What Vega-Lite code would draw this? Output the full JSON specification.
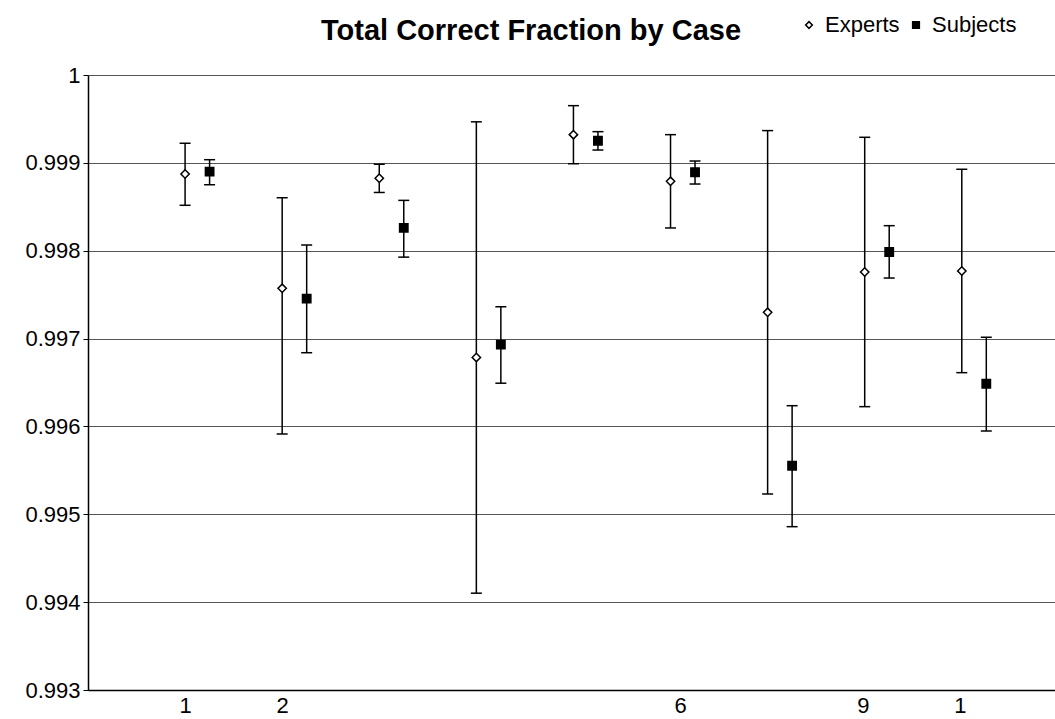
{
  "$schema": "https://vega.github.io/schema/vega-lite/v6.json",
  "width": 967,
  "height": 615,
  "autosize": {"type": "none"},
  "padding": {"left": 88, "top": 75, "right": 0, "bottom": 29},
  "background": "white",
  "config": {
    "font": "Liberation Sans",
    "view": {"stroke": null},
    "axis": {"labelFont": "Liberation Sans", "labelColor": "black"}
  },
  "title": {
    "text": "Total Correct Fraction by Case",
    "font": "Liberation Sans",
    "fontSize": 29,
    "fontWeight": "bold",
    "color": "black",
    "anchor": "start",
    "frame": "group",
    "dx": 233,
    "offset": 32,
    "dy": 64
  },
  "data": {
    "values": [
      {"case": 1, "series": "Experts", "value": 0.998873, "lo": 0.998517, "hi": 0.999223},
      {"case": 2, "series": "Experts", "value": 0.997572, "lo": 0.995914, "hi": 0.998603},
      {"case": 3, "series": "Experts", "value": 0.998825, "lo": 0.998663, "hi": 0.998984},
      {"case": 4, "series": "Experts", "value": 0.996785, "lo": 0.994102, "hi": 0.999467},
      {"case": 5, "series": "Experts", "value": 0.999321, "lo": 0.998990, "hi": 0.999651},
      {"case": 6, "series": "Experts", "value": 0.998790, "lo": 0.998259, "hi": 0.999321},
      {"case": 7, "series": "Experts", "value": 0.997299, "lo": 0.995231, "hi": 0.999367},
      {"case": 8, "series": "Experts", "value": 0.997758, "lo": 0.996225, "hi": 0.999291},
      {"case": 9, "series": "Experts", "value": 0.997769, "lo": 0.996612, "hi": 0.998927},
      {"case": 1, "series": "Subjects", "value": 0.998900, "lo": 0.998751, "hi": 0.999036},
      {"case": 2, "series": "Subjects", "value": 0.997454, "lo": 0.996839, "hi": 0.998065},
      {"case": 3, "series": "Subjects", "value": 0.998260, "lo": 0.997927, "hi": 0.998573},
      {"case": 4, "series": "Subjects", "value": 0.996931, "lo": 0.996492, "hi": 0.997362},
      {"case": 5, "series": "Subjects", "value": 0.999252, "lo": 0.999146, "hi": 0.999355},
      {"case": 6, "series": "Subjects", "value": 0.998893, "lo": 0.998759, "hi": 0.999021},
      {"case": 7, "series": "Subjects", "value": 0.995553, "lo": 0.994859, "hi": 0.996236},
      {"case": 8, "series": "Subjects", "value": 0.997985, "lo": 0.997689, "hi": 0.998285},
      {"case": 9, "series": "Subjects", "value": 0.996486, "lo": 0.995948, "hi": 0.997015}
    ]
  },
  "encoding": {
    "x": {
      "field": "case",
      "type": "quantitative",
      "scale": {"domain": [0, 9.96], "nice": false, "zero": false},
      "axis": {
        "title": null,
        "values": [1, 2, 6.1, 7.98, 8.98],
        "labelExpr": "datum.value < 1.5 ? '1' : datum.value < 2.5 ? '2' : datum.value < 7 ? '6' : datum.value < 8.5 ? '9' : '1'",
        "labelFontSize": 22,
        "labelPadding": 5,
        "ticks": false,
        "grid": false,
        "domainColor": "black",
        "domainWidth": 1.5
      }
    },
    "y": {
      "field": "value",
      "type": "quantitative",
      "scale": {"domain": [0.993, 1.0], "nice": false, "zero": false},
      "axis": {
        "title": null,
        "values": [0.993, 0.994, 0.995, 0.996, 0.997, 0.998, 0.999, 1.0],
        "format": ".3~f",
        "labelFontSize": 22,
        "labelPadding": 3,
        "tickSize": 5,
        "tickColor": "black",
        "domainColor": "black",
        "domainWidth": 1.5,
        "grid": true,
        "gridColor": "#555555",
        "gridWidth": 1
      }
    }
  },
  "layer": [
    {
      "transform": [{"filter": "datum.series === 'Experts'"}],
      "mark": {"type": "rule", "color": "black", "strokeWidth": 1.5},
      "encoding": {"y": {"field": "lo", "type": "quantitative"}, "y2": {"field": "hi"}}
    },
    {
      "transform": [{"filter": "datum.series === 'Subjects'"}],
      "mark": {"type": "rule", "color": "black", "strokeWidth": 1.5, "xOffset": 24.5},
      "encoding": {"y": {"field": "lo", "type": "quantitative"}, "y2": {"field": "hi"}}
    },
    {
      "transform": [{"filter": "datum.series === 'Experts'"}],
      "mark": {"type": "tick", "orient": "horizontal", "color": "black", "size": 11, "thickness": 1.5, "opacity": 1},
      "encoding": {"y": {"field": "lo", "type": "quantitative"}}
    },
    {
      "transform": [{"filter": "datum.series === 'Experts'"}],
      "mark": {"type": "tick", "orient": "horizontal", "color": "black", "size": 11, "thickness": 1.5, "opacity": 1},
      "encoding": {"y": {"field": "hi", "type": "quantitative"}}
    },
    {
      "transform": [{"filter": "datum.series === 'Subjects'"}],
      "mark": {"type": "tick", "orient": "horizontal", "color": "black", "size": 11, "thickness": 1.5, "opacity": 1, "xOffset": 24.5},
      "encoding": {"y": {"field": "lo", "type": "quantitative"}}
    },
    {
      "transform": [{"filter": "datum.series === 'Subjects'"}],
      "mark": {"type": "tick", "orient": "horizontal", "color": "black", "size": 11, "thickness": 1.5, "opacity": 1, "xOffset": 24.5},
      "encoding": {"y": {"field": "hi", "type": "quantitative"}}
    },
    {
      "transform": [{"filter": "datum.series === 'Experts'"}],
      "mark": {"type": "point", "filled": true, "strokeWidth": 1.5, "size": 70, "opacity": 1},
      "encoding": {
        "shape": {"field": "series", "type": "nominal", "scale": {"domain": ["Experts", "Subjects"], "range": ["diamond", "square"]}, "legend": {
          "title": null, "orient": "none", "direction": "horizontal", "legendX": 710, "legendY": -61,
          "labelFontSize": 22, "labelFont": "Liberation Sans", "labelColor": "black", "labelOffset": 5,
          "symbolSize": 45, "symbolStrokeWidth": 1.5, "columnPadding": 5, "padding": 0
        }},
        "fill": {"field": "series", "type": "nominal", "scale": {"domain": ["Experts", "Subjects"], "range": ["white", "black"]}, "legend": {
          "title": null, "orient": "none", "direction": "horizontal", "legendX": 710, "legendY": -61,
          "labelFontSize": 22, "labelFont": "Liberation Sans", "labelColor": "black", "labelOffset": 5,
          "symbolSize": 45, "symbolStrokeWidth": 1.5, "columnPadding": 5, "padding": 0
        }},
        "stroke": {"field": "series", "type": "nominal", "scale": {"domain": ["Experts", "Subjects"], "range": ["black", "black"]}, "legend": {
          "title": null, "orient": "none", "direction": "horizontal", "legendX": 710, "legendY": -61,
          "labelFontSize": 22, "labelFont": "Liberation Sans", "labelColor": "black", "labelOffset": 5,
          "symbolSize": 45, "symbolStrokeWidth": 1.5, "columnPadding": 5, "padding": 0
        }}
      }
    },
    {
      "transform": [{"filter": "datum.series === 'Subjects'"}],
      "mark": {"type": "point", "filled": true, "strokeWidth": 1.5, "size": 70, "opacity": 1, "xOffset": 24.5},
      "encoding": {
        "shape": {"field": "series", "type": "nominal"},
        "fill": {"field": "series", "type": "nominal"},
        "stroke": {"field": "series", "type": "nominal"}
      }
    }
  ]
}
